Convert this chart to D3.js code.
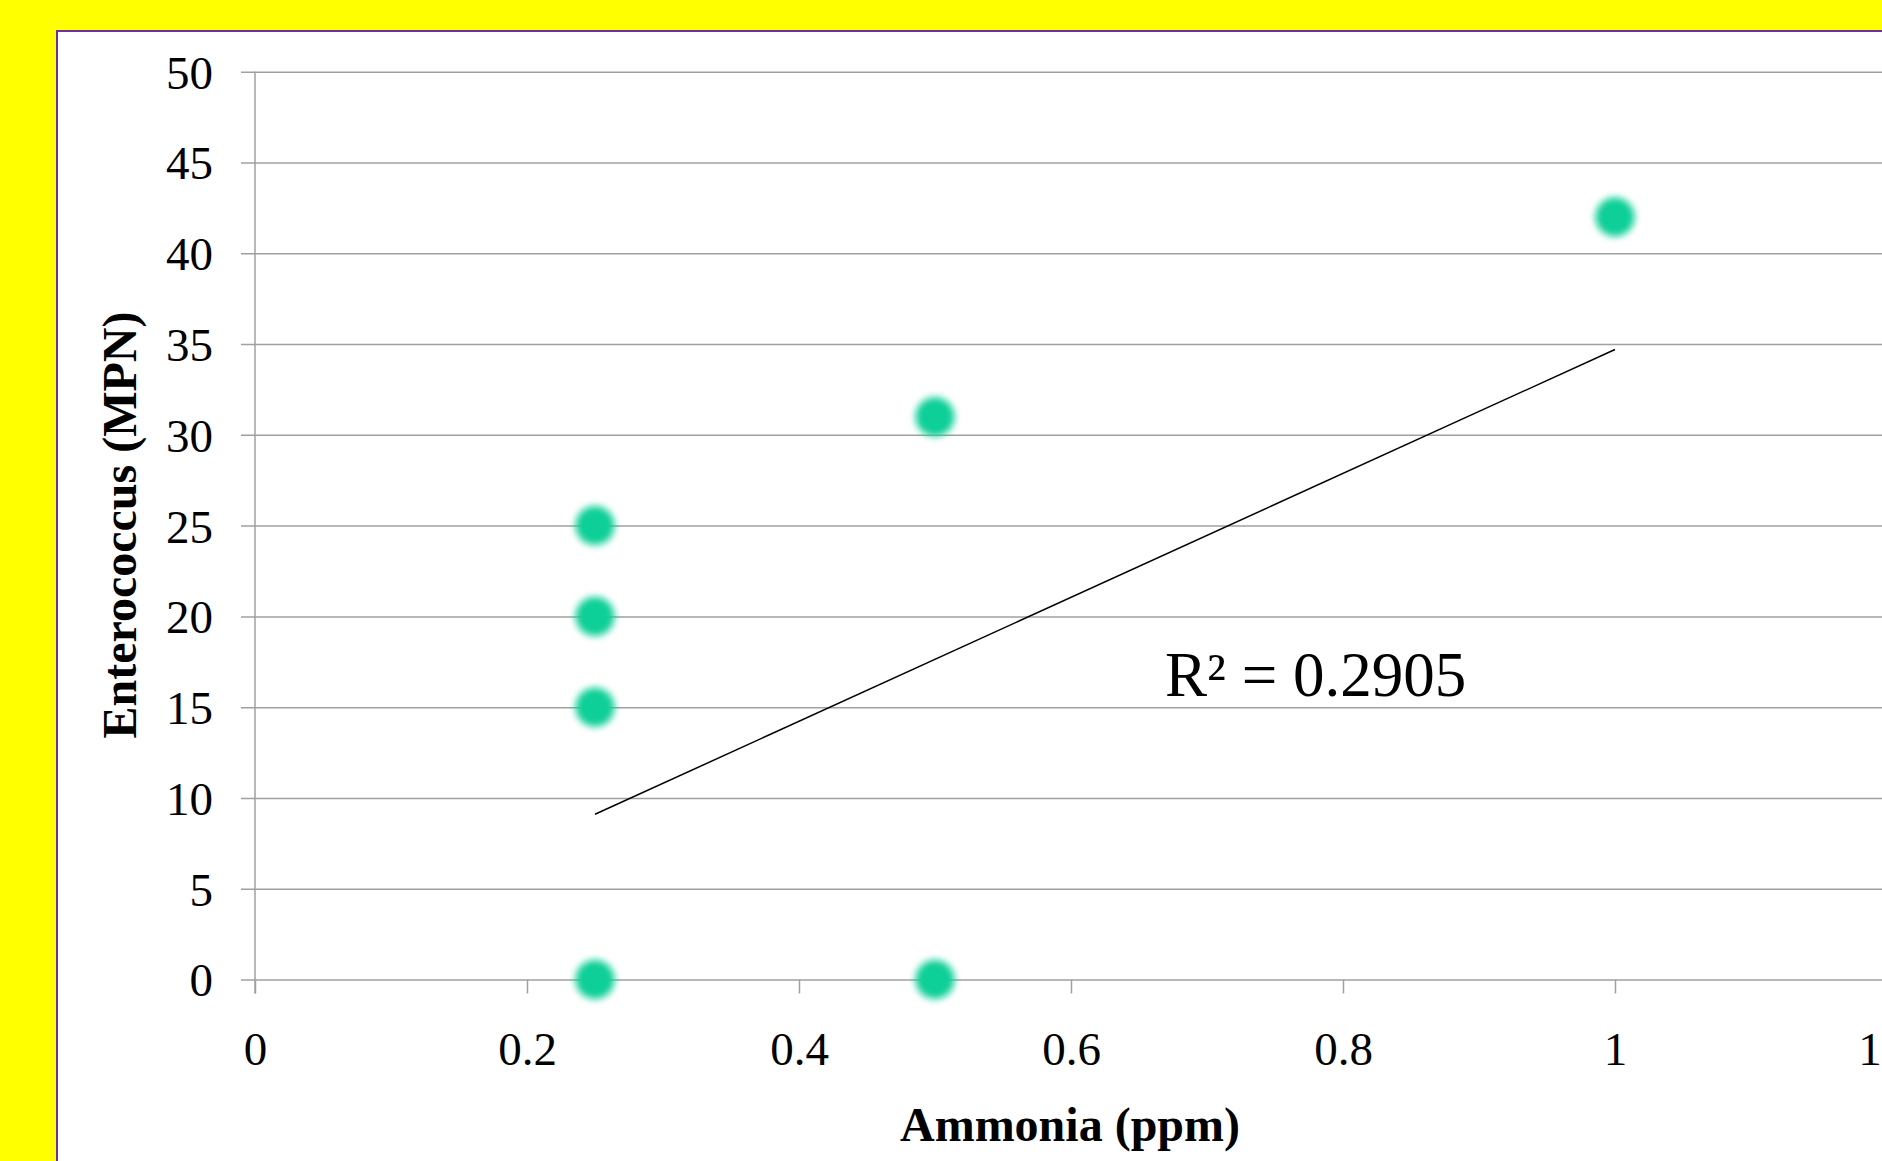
<!DOCTYPE html>
<html>
<head>
<meta charset="utf-8">
<script src="https://cdn.jsdelivr.net/npm/d3@7"></script>
<style>
  html, body { margin: 0; padding: 0; overflow: hidden; background: #ffff00; }
  svg { display: block; }
</style>
</head>
<body>
<div id="chart"></div>
<script>
// dados
const ammonia = [0.25, 0.25, 0.25, 0.25, 0.5, 0.5, 1];
const enterococcus = [0, 15, 20, 25, 0, 31, 42];
// linha de tendencia (pontas)
const trendX = [0.25, 1];
const trendY = [9.1, 34.7];
const rSquared = "R² = 0.2905";
const xTicks = [0, 0.2, 0.4, 0.6, 0.8, 1, 1.2];
const yTicks = [0, 5, 10, 15, 20, 25, 30, 35, 40, 45, 50];

const W = 1882, H = 1161;

let svg = d3.select("#chart").append("svg")
  .attr("width", W)
  .attr("height", H);

let defs = svg.append("defs");
defs.append("filter")
  .attr("id", "blur")
  .attr("x", "-50%").attr("y", "-50%")
  .attr("width", "200%").attr("height", "200%")
  .append("feGaussianBlur")
  .attr("stdDeviation", 3.5);

// fundo amarelo + painel branco
svg.append("rect").attr("width", W).attr("height", H).attr("fill", "#ffff00");
svg.append("rect")
  .attr("x", 57).attr("y", 31)
  .attr("width", W).attr("height", H)
  .attr("fill", "#ffffff")
  .attr("stroke", "#7030a0")
  .attr("stroke-width", 2);

let scaleX = d3.scaleLinear().domain([0, 1.2]).range([255, 1887]);
let scaleY = d3.scaleLinear().domain([0, 50]).range([979.5, 71.7]);

const gridColor = "#a0a0a0";

// eixo Y com grelha
let axisY = d3.axisLeft(scaleY)
  .tickValues(yTicks)
  .tickSize(-(1887 - 241))
  .tickPadding(28)
  .tickFormat(d3.format("d"));

let gy = svg.append("g")
  .attr("transform", `translate(241,0)`)
  .call(axisY);
gy.select(".domain").remove();
gy.selectAll(".tick line")
  .attr("x1", 0)
  .attr("x2", 1887 - 241)
  .attr("stroke", gridColor)
  .attr("stroke-width", 1.5);
gy.selectAll(".tick text")
  .attr("x", 213 - 241)
  .attr("dy", "0.35em")
  .attr("fill", "#000")
  .style("font-family", "'Liberation Serif', 'Times New Roman', serif")
  .style("font-size", "47px");

// eixo X
let axisX = d3.axisBottom(scaleX)
  .tickValues(xTicks)
  .tickSize(14)
  .tickPadding(0)
  .tickFormat(d => d);

let gx = svg.append("g")
  .attr("transform", `translate(0,${scaleY(0)})`)
  .call(axisX);
gx.select(".domain").remove();
gx.selectAll(".tick line").attr("stroke", gridColor).attr("stroke-width", 1.5);
gx.selectAll(".tick text")
  .attr("y", 85)
  .attr("dy", 0)
  .attr("fill", "#000")
  .style("font-family", "'Liberation Serif', 'Times New Roman', serif")
  .style("font-size", "47px");

// linha vertical do eixo Y
svg.append("line")
  .attr("x1", scaleX(0)).attr("x2", scaleX(0))
  .attr("y1", scaleY(50)).attr("y2", scaleY(0) + 14)
  .attr("stroke", gridColor)
  .attr("stroke-width", 1.5);

// linha de tendencia
svg.append("line")
  .attr("x1", scaleX(trendX[0])).attr("y1", scaleY(trendY[0]))
  .attr("x2", scaleX(trendX[1])).attr("y2", scaleY(trendY[1]))
  .attr("stroke", "#000")
  .attr("stroke-width", 1.5);

// pontos
let points = ammonia.map((a, i) => ({ x: a, y: enterococcus[i] }));
svg.append("g").selectAll("circle").data(points)
  .enter()
  .append("circle")
  .attr("cx", d => scaleX(d.x))
  .attr("cy", d => scaleY(d.y))
  .attr("r", 19.5)
  .attr("fill", "#0ccf97")
  .attr("filter", "url(#blur)");

// R²
svg.append("text")
  .text(rSquared)
  .attr("x", 1165)
  .attr("y", 696)
  .attr("fill", "#000")
  .style("font-family", "'Liberation Serif', 'Times New Roman', serif")
  .style("font-size", "63px");

// titulos dos eixos
svg.append("text")
  .text("Ammonia (ppm)")
  .attr("x", 1070)
  .attr("y", 1141)
  .attr("text-anchor", "middle")
  .attr("fill", "#000")
  .style("font-family", "'Liberation Serif', 'Times New Roman', serif")
  .style("font-weight", "bold")
  .style("font-size", "48px");

svg.append("text")
  .text("Enterococcus (MPN)")
  .attr("transform", "translate(136,525) rotate(-90)")
  .attr("text-anchor", "middle")
  .attr("fill", "#000")
  .style("font-family", "'Liberation Serif', 'Times New Roman', serif")
  .style("font-weight", "bold")
  .style("font-size", "48px");
</script>
</body>
</html>
